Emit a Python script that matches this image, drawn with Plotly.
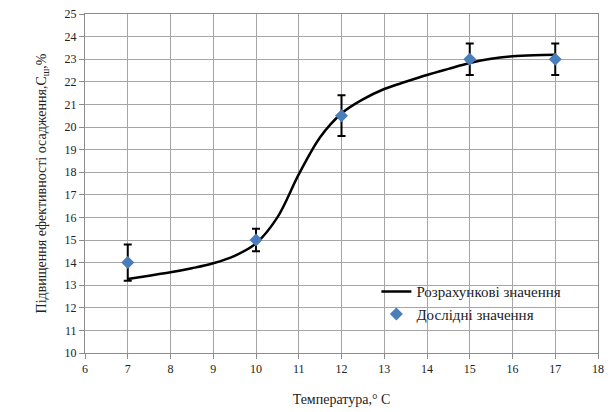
import plotly.graph_objects as go

# Calculated curve
curve_x = [7, 7.5, 8, 8.5, 9, 9.5, 10, 10.5, 11, 11.5, 12, 12.5, 13, 13.5, 14, 14.5, 15, 15.5, 16, 16.5, 17]
curve_y = [13.27, 13.42, 13.57, 13.75, 13.97, 14.3, 14.85, 16.0, 17.9, 19.55, 20.6, 21.22, 21.68, 22.0, 22.3, 22.57, 22.83, 23.02, 23.13, 23.18, 23.2]

# Experimental points
exp_x = [7, 10, 12, 15, 17]
exp_y = [14.0, 15.0, 20.5, 23.0, 23.0]
exp_err = [0.8, 0.5, 0.9, 0.7, 0.7]

x_ticks = list(range(6, 19))
y_ticks = list(range(10, 26))

FONT = "Liberation Serif, Times New Roman, serif"

fig = go.Figure()
fig.add_trace(go.Scatter(
    x=curve_x, y=curve_y, mode="lines", name="Розрахункові значення",
    line=dict(color="black", width=2.5, shape="spline", smoothing=1.0),
))
fig.add_trace(go.Scatter(
    x=exp_x, y=exp_y, mode="markers", name="Дослідні значення",
    marker=dict(symbol="diamond", size=10, color="#4a7ebb", line=dict(width=0)),
    error_y=dict(type="data", array=exp_err, visible=True, color="black", thickness=2, width=4),
))

# white legend background area (covers gridlines like the original)
fig.add_shape(type="rect", xref="paper", yref="paper",
              x0=0.532, x1=0.996, y0=0.080, y1=0.245,
              fillcolor="white", line=dict(width=0), layer="between")

fig.update_layout(
    width=616, height=412,
    margin=dict(l=85, r=18, t=14, b=59, autoexpand=False),
    paper_bgcolor="white", plot_bgcolor="white",
    font=dict(family=FONT, size=12, color="#222"),
    legend=dict(
        x=0.568, y=0.229, xanchor="left", yanchor="top",
        bgcolor="rgba(0,0,0,0)", borderwidth=0,
        font=dict(family=FONT, size=15, color="#222"),
        tracegroupgap=2, itemwidth=30,
    ),
    showlegend=True,
)
fig.update_xaxes(
    range=[6, 18], tickvals=x_ticks, ticktext=[str(v) for v in x_ticks],
    showgrid=True, gridcolor="#a6a6a6", gridwidth=1,
    showline=True, linecolor="#8c8c8c", linewidth=1, mirror=True,
    ticks="outside", ticklen=5, tickcolor="#8c8c8c",
    zeroline=False, automargin=False,
    title=dict(text="Температура,° С", font=dict(family=FONT, size=14, color="#222"), standoff=18),
)
fig.update_yaxes(
    range=[10, 25], tickvals=y_ticks, ticktext=[str(v) for v in y_ticks],
    showgrid=True, gridcolor="#a6a6a6", gridwidth=1,
    showline=True, linecolor="#8c8c8c", linewidth=1, mirror=True,
    ticks="outside", ticklen=5, tickcolor="#8c8c8c",
    zeroline=False, automargin=False,
    title=dict(text="Підвищення ефективності осадження,С<sub>ш</sub>,%",
               font=dict(family=FONT, size=14, color="#222"), standoff=14),
)

fig.write_html("out.html", config={"displayModeBar": False},
               post_script="document.body.style.margin='0';")
